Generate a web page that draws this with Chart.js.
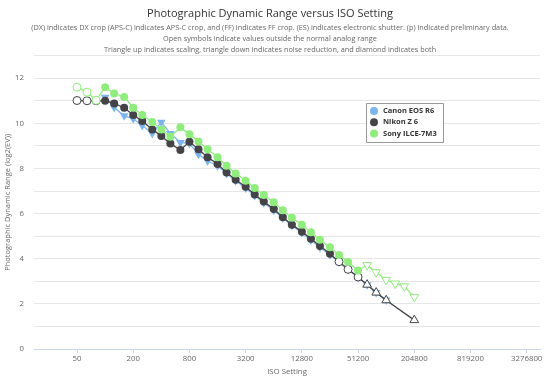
<!DOCTYPE html>
<html>
<head>
<meta charset="utf-8">
<script src="https://cdn.jsdelivr.net/npm/chart.js@4/dist/chart.umd.min.js"></script>
<style>
  html, body { margin: 0; padding: 0; background: #fff; }
  #wrap { width: 550px; height: 378px; }
</style>
</head>
<body>
<div id="wrap"><canvas id="canvas_dr"></canvas></div>
<script>
// ISO settings in 1/3 stop steps
const isoSteps = [50, 64, 80, 100, 125, 160, 200, 250, 320, 400, 500, 640, 800, 1000, 1250, 1600,
    2000, 2500, 3200, 4000, 5000, 6400, 8000, 10000, 12800, 16000, 20000, 25600, 32000, 40000,
    51200, 64000, 80000, 102400, 128000, 160000, 204800];
const isoTicks = [50, 200, 800, 3200, 12800, 51200, 204800, 819200, 3276800];

const seriesNames = ['Canon EOS R6', 'Nikon Z 6', 'Sony ILCE-7M3'];

const canonValues = [null, null, null, 11.16, 10.7, 10.33, 10.2, 9.9, 9.55, 10.05, 9.55, 9.15, 9.1, 8.63,
    8.33, 8.12, 7.78, 7.45, 7.13, 6.8, 6.48, 6.15, 5.8, 5.47, 5.15, 4.83, 4.5, 4.18, 3.85, 3.52,
    3.18, 2.85, 2.5, 2.17, null, null, null];
const nikonValues = [11.01, 11.0, 11.0, 11.0, 10.88, 10.69, 10.37, 10.1, 9.73, 9.44, 9.1, 8.82, 9.18, 8.85,
    8.5, 8.2, 7.82, 7.5, 7.19, 6.85, 6.53, 6.2, 5.84, 5.51, 5.2, 4.88, 4.56, 4.22, 3.87, 3.53,
    3.19, 2.85, 2.5, 2.16, null, null, 1.28];
const sonyValues = [11.6, 11.38, 11.02, 11.6, 11.32, 11.17, 10.69, 10.37, 10.06, 9.73, 9.4, 9.82, 9.51, 9.19,
    8.85, 8.5, 8.12, 7.78, 7.46, 7.13, 6.82, 6.5, 6.15, 5.81, 5.5, 5.17, 4.84, 4.51, 4.17, 3.85,
    3.48, 3.72, 3.4, 3.06, 2.9, 2.78, 2.31];

// marker kind per ISO step: f = filled, o = open (outside analog range),
// u = open triangle up (scaling), d = open triangle down (noise reduction), D = filled triangle down
const canonMarks = ('---' + 'D'.repeat(31) + '---').split('');
const nikonMarks = ('ooo' + 'f'.repeat(25) + 'ooo' + 'uuu' + '--' + 'u').split('');
const sonyMarks = ('ooo' + 'f'.repeat(28) + 'dddddd').split('');

const colors = ['#7cb5ec', '#434348', '#90ed7d'];

function buildSeries(label, values, marks, color, order) {
    const data = [], style = [], bg = [], bw = [], rad = [], rot = [];
    values.forEach((v, i) => {
        if (v === null) return;
        data.push({x: isoSteps[i], y: v});
        const m = marks[i];
        const tri = (m === 'u' || m === 'd' || m === 'D');
        style.push(tri ? 'triangle' : 'circle');
        rot.push(m === 'd' || m === 'D' ? 180 : 0);
        bg.push(m === 'f' || m === 'D' ? color : '#ffffff');
        bw.push(m === 'f' || m === 'D' ? 0 : 1);
        rad.push(tri ? 5 : 4);
    });
    return {
        label: label,
        data: data,
        order: order,
        borderColor: color,
        backgroundColor: color,
        borderWidth: 1.3,
        tension: 0,
        pointStyle: style,
        rotation: rot,
        pointBackgroundColor: bg,
        pointBorderColor: color,
        pointBorderWidth: bw,
        pointRadius: rad,
        pointHoverRadius: rad
    };
}

const boxLegend = {
    id: 'boxLegend',
    afterDraw(chart) {
        const ctx = chart.ctx;
        const x0 = 366, y0 = 103, w = 77, h = 39;
        ctx.save();
        ctx.strokeStyle = '#999999';
        ctx.lineWidth = 1;
        ctx.fillStyle = '#ffffff';
        ctx.beginPath();
        ctx.rect(x0 + 0.5, y0 + 0.5, w, h);
        ctx.fill();
        ctx.stroke();
        ctx.font = 'bold 7.5px "Open Sans"';
        ctx.textBaseline = 'middle';
        chart.data.datasets.forEach((ds, i) => {
            const y = y0 + 8 + i * 11.3;
            ctx.fillStyle = ds.borderColor;
            ctx.beginPath();
            ctx.arc(x0 + 8, y, 4, 0, Math.PI * 2);
            ctx.fill();
            ctx.fillStyle = '#333333';
            ctx.fillText(ds.label, x0 + 17, y);
        });
        ctx.restore();
    }
};

Chart.defaults.font.family = '"Open Sans", sans-serif';
Chart.defaults.color = '#666666';

const ctx = document.getElementById('canvas_dr').getContext('2d');
var chart = new Chart(ctx, {
    type: 'line',
    data: {
        datasets: [
            buildSeries(seriesNames[0], canonValues, canonMarks, colors[0], 2),
            buildSeries(seriesNames[1], nikonValues, nikonMarks, colors[1], 1),
            buildSeries(seriesNames[2], sonyValues, sonyMarks, colors[2], 0)
        ]
    },
    options: {
        responsive: true,
        maintainAspectRatio: false,
        animation: false,
        layout: {padding: {left: 0, right: 10, top: 0, bottom: 0}},
        plugins: {
            legend: {display: false},
            tooltip: {enabled: false},
            title: {
                display: true,
                text: 'Photographic Dynamic Range versus ISO Setting',
                color: '#333333',
                font: {size: 11, weight: 'normal', lineHeight: 1.25},
                padding: {top: 7, bottom: 1}
            },
            subtitle: {
                display: true,
                text: [
                    '(DX) indicates DX crop (APS-C) indicates APS-C crop, and (FF) indicates FF crop. (ES) indicates electronic shutter. (p) indicated preliminary data.',
                    'Open symbols indicate values outside the normal analog range',
                    'Triangle up indicates scaling, triangle down indicates noise reduction, and diamond indicates both'
                ],
                color: '#666666',
                font: {size: 7.3, lineHeight: 1.5},
                padding: {top: 1, bottom: 0}
            }
        },
        scales: {
            x: {
                type: 'logarithmic',
                min: 17.31,
                max: 4548000,
                afterBuildTicks: scale => {
                    scale.ticks = isoTicks.map(v => ({value: v}));
                },
                afterFit: scale => { scale.height = 29; },
                ticks: {
                    autoSkip: false,
                    maxRotation: 0,
                    padding: 1,
                    font: {size: 7.8},
                    callback: v => String(v)
                },
                grid: {
                    drawOnChartArea: false,
                    drawTicks: true,
                    tickLength: 4,
                    color: '#ccd6eb'
                },
                border: {color: '#ccd6eb'},
                title: {
                    display: true,
                    text: 'ISO Setting',
                    font: {size: 7.8},
                    padding: {top: 0, bottom: 2}
                }
            },
            y: {
                min: 0,
                max: 13,
                afterFit: scale => { scale.width = 34; },
                ticks: {
                    stepSize: 1,
                    padding: 10,
                    font: {size: 7.8},
                    callback: v => (v % 2 === 0 ? String(v) : '')
                },
                grid: {color: '#e6e6e6', drawTicks: false},
                border: {display: false},
                title: {
                    display: true,
                    text: 'Photographic Dynamic Range (log2(EV))',
                    font: {size: 7.5},
                    padding: {top: 3, bottom: 0}
                }
            }
        }
    },
    plugins: [boxLegend]
});
</script>
</body>
</html>
